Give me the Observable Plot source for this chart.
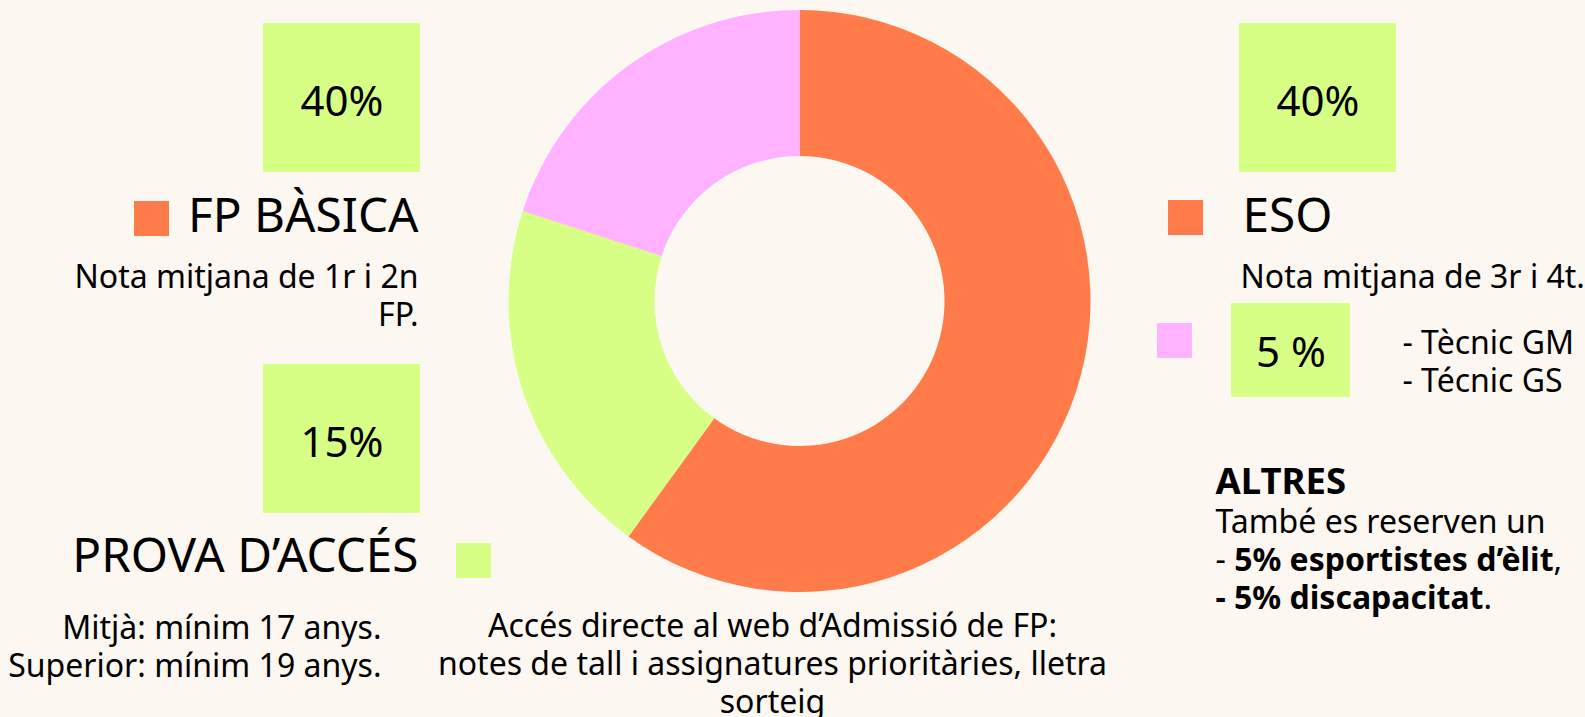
<!DOCTYPE html>
<html><head><meta charset="utf-8">
<script src="https://cdn.jsdelivr.net/npm/d3@7"></script>
<script src="https://cdn.jsdelivr.net/npm/@observablehq/plot@0.6"></script>
<style>html,body{margin:0;padding:0;background:#FCF7F1;overflow:hidden}</style>
</head><body><div id="chart"></div>
<script>
// ---- data ----
const categories = ["ESO / FP Bàsica", "Prova d’accés", "Tècnic GM / GS"];
const shares = [60, 20, 20];
const colors = ["#FF7C4A", "#D7FF86", "#FFB2FF"];
const quotaLabels = ["40%", "15%", "40%", "5 %"];
const groupTitles = ["FP BÀSICA", "PROVA D’ACCÉS", "ESO"];
const groupNotes = ["Nota mitjana de 1r i 2n\nFP.", "Mitjà: mínim 17 anys.\nSuperior: mínim 19 anys.", "Nota mitjana de 3r i 4t."];
const tecnicLines = "- Tècnic GM\n- Técnic GS";
const altresTitle = "ALTRES";
const altresLines = ["També es reserven un", "- 5% esportistes d’èlit,", "- 5% discapacitat."];
const footNote = "Accés directe al web d’Admissió de FP:\nnotes de tall i assignatures prioritàries, lletra\nsorteig";

// ---- build ----
const slices = categories.map((c, i) => ({category: c, share: shares[i]}));
const arcs = d3.pie().sort(null).value(d => d.share)(slices);
slices.forEach((d, i) => { d.startAngle = arcs[i].startAngle; d.endAngle = arcs[i].endAngle; });

const GREEN = colors[1];
const font = "'Noto Sans', 'Open Sans', sans-serif";

const donut = Plot.dot(slices, {
  x: () => 799.5, y: () => 301, fill: "category",
  render(index, scales, values) {
    const arc = d3.arc().innerRadius(145).outerRadius(291);
    const g = d3.create("svg:g").attr("aria-label", "donut");
    for (const i of index) {
      g.append("path")
        .attr("transform", `translate(${values.x[i]},${values.y[i]})`)
        .attr("d", arc(slices[i]))
        .attr("fill", values.fill[i]);
    }
    return g.node();
  }
});

const bigBoxes = [
  {x1: 263, x2: 420, y1: 23, y2: 172, label: quotaLabels[0], ty: 115},
  {x1: 263, x2: 420, y1: 364, y2: 513, label: quotaLabels[1], ty: 456},
  {x1: 1239, x2: 1396, y1: 23, y2: 172, label: quotaLabels[2], ty: 115},
  {x1: 1231, x2: 1350, y1: 303, y2: 397, label: quotaLabels[3], ty: 366}
];
const swatches = [
  {x1: 134, x2: 169, y1: 201, y2: 236, category: categories[0]},
  {x1: 1168, x2: 1203, y1: 200, y2: 235, category: categories[0]},
  {x1: 1157, x2: 1192, y1: 323, y2: 358, category: categories[2]},
  {x1: 456, x2: 491, y1: 543, y2: 578, category: categories[1]}
];

const T = (text, x, y, opts) => Plot.text([text], {x: () => x, y: () => y, text: d => d, lineAnchor: "bottom", fill: "#000", fontSize: 32, ...opts});

const chart = Plot.plot({
  width: 1585, height: 717,
  margin: 0,
  x: {type: "identity", axis: null},
  y: {type: "identity", axis: null},
  color: {domain: categories, range: colors},
  style: {background: "#FCF7F1", fontFamily: font, overflow: "visible"},
  marks: [
    donut,
    Plot.rect(bigBoxes, {x1: "x1", x2: "x2", y1: "y1", y2: "y2", fill: GREEN}),
    Plot.text(bigBoxes, {x: d => (d.x1 + d.x2) / 2, y: "ty", text: "label", lineAnchor: "bottom", fontSize: 42, fill: "#000"}),
    Plot.rect(swatches, {x1: "x1", x2: "x2", y1: "y1", y2: "y2", fill: "category"}),
    T(groupTitles[0], 418, 231, {textAnchor: "end", fontSize: 47.7}),
    T(groupNotes[0], 418, 325, {textAnchor: "end", lineHeight: 1.1875}),
    T(groupTitles[1], 418, 571, {textAnchor: "end", fontSize: 47.7}),
    T(groupNotes[1], 381, 676, {textAnchor: "end", lineHeight: 1.1875}),
    T(groupTitles[2], 1242, 231, {textAnchor: "start", fontSize: 47.7}),
    T(groupNotes[2], 1240, 287, {textAnchor: "start"}),
    T(tecnicLines, 1402, 391, {textAnchor: "start", lineHeight: 1.1875}),
    T(altresTitle, 1215, 493, {textAnchor: "start", fontSize: 36.5, fontWeight: "bold"}),
    T(altresLines[0], 1215, 532, {textAnchor: "start"}),
    T(altresLines[1], 1215, 570, {textAnchor: "start"}),
    T(altresLines[2], 1215, 608, {textAnchor: "start"}),
    T(footNote, 772, 712, {textAnchor: "middle", lineHeight: 1.1875})
  ]
});
document.getElementById("chart").appendChild(chart);

// mixed weights inside the ALTRES lines
const richParts = {
  [altresLines[1]]: [["- ", "normal"], ["5% esportistes d’èlit", "bold"], [",", "normal"]],
  [altresLines[2]]: [["- 5% discapacitat", "bold"], [".", "normal"]]
};
chart.querySelectorAll("text").forEach(t => {
  const parts = richParts[t.textContent];
  if (!parts) return;
  t.textContent = "";
  for (const [s, w] of parts) {
    const ts = document.createElementNS("http://www.w3.org/2000/svg", "tspan");
    ts.setAttribute("font-weight", w);
    ts.textContent = s;
    t.appendChild(ts);
  }
});
</script>
</body></html>
